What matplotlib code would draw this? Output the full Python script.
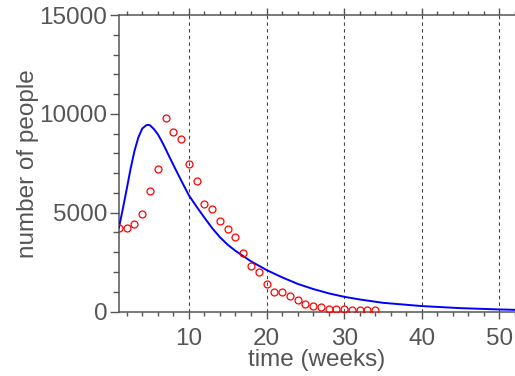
import matplotlib
matplotlib.use("Agg")
from matplotlib import pyplot as plt
from matplotlib.ticker import MultipleLocator

# observed weekly counts (red circles)
weeks = list(range(1, 35))
observed = [4250, 4250, 4450, 4930, 6100, 7220, 9810, 9090, 8740, 7470,
            6610, 5420, 5190, 4580, 4180, 3750, 2950, 2310, 2020, 1410,
            1010, 1010, 780, 570, 370, 290, 220, 150, 120, 120,
            85, 85, 85, 85]

# model curve (blue line)
model_t = [1, 1.5, 2, 2.5, 3, 3.5, 4, 4.5, 4.75, 5, 5.5, 6, 6.5, 7, 7.5, 8,
           8.5, 9, 9.5, 10, 11, 12, 13, 14, 15, 16, 18, 20, 22, 24, 26, 28,
           30, 32, 35, 40, 45, 50, 52]
model_y = [4250, 5200, 6200, 7230, 8130, 8810, 9255, 9420, 9445, 9420, 9230,
           8970, 8620, 8230, 7820, 7420, 7030, 6640, 6260, 5880, 5300, 4750,
           4220, 3760, 3380, 3070, 2540, 2100, 1730, 1400, 1140, 920, 745,
           610, 440, 275, 170, 105, 85]

gray = '#555555'
plt.rcParams['font.family'] = ['Liberation Sans', 'DejaVu Sans']

fig = plt.figure(figsize=(5.15, 3.76), dpi=100)
ax = fig.add_axes([0.231, 0.1715, 0.769, 0.7886])

# Render data
ax.plot(model_t, model_y, color='#0000ff', linewidth=1.4, zorder=3)
ax.plot(weeks, observed, linestyle='none', marker='o', markersize=5,
        markerfacecolor='none', markeredgecolor='#ff0000',
        markeredgewidth=0.9, zorder=4)

# Axis limits & ticks
ax.set_xlim(1, 52)
ax.set_ylim(0, 15000)
ax.xaxis.set_major_locator(MultipleLocator(10))
ax.xaxis.set_minor_locator(MultipleLocator(2))
ax.yaxis.set_major_locator(MultipleLocator(5000))
ax.yaxis.set_minor_locator(MultipleLocator(1000))

ax.grid(axis='x', which='major', linestyle=(0, (3, 3)), color='#444444',
        linewidth=0.8)

for side in ['left', 'bottom', 'top']:
	ax.spines[side].set_color(gray)
	ax.spines[side].set_linewidth(1.1)
ax.spines['right'].set_visible(False)

ax.tick_params(which='both', direction='out', color=gray, width=1,
               top=True, labeltop=False, right=False)
ax.tick_params(axis='x', which='major', length=5, labelsize=17.5,
               labelcolor=gray, pad=7)
ax.tick_params(axis='x', which='minor', length=3)
ax.tick_params(axis='y', which='major', length=6.5, labelsize=17.5,
               labelcolor=gray, pad=2)
ax.tick_params(axis='y', which='minor', length=4)

ax.set_xlabel('time (weeks)', fontsize=17.5, color=gray, labelpad=-1)
ax.set_ylabel('number of people', fontsize=17.5, color=gray, labelpad=0)

plt.savefig('out.png', dpi=100)
